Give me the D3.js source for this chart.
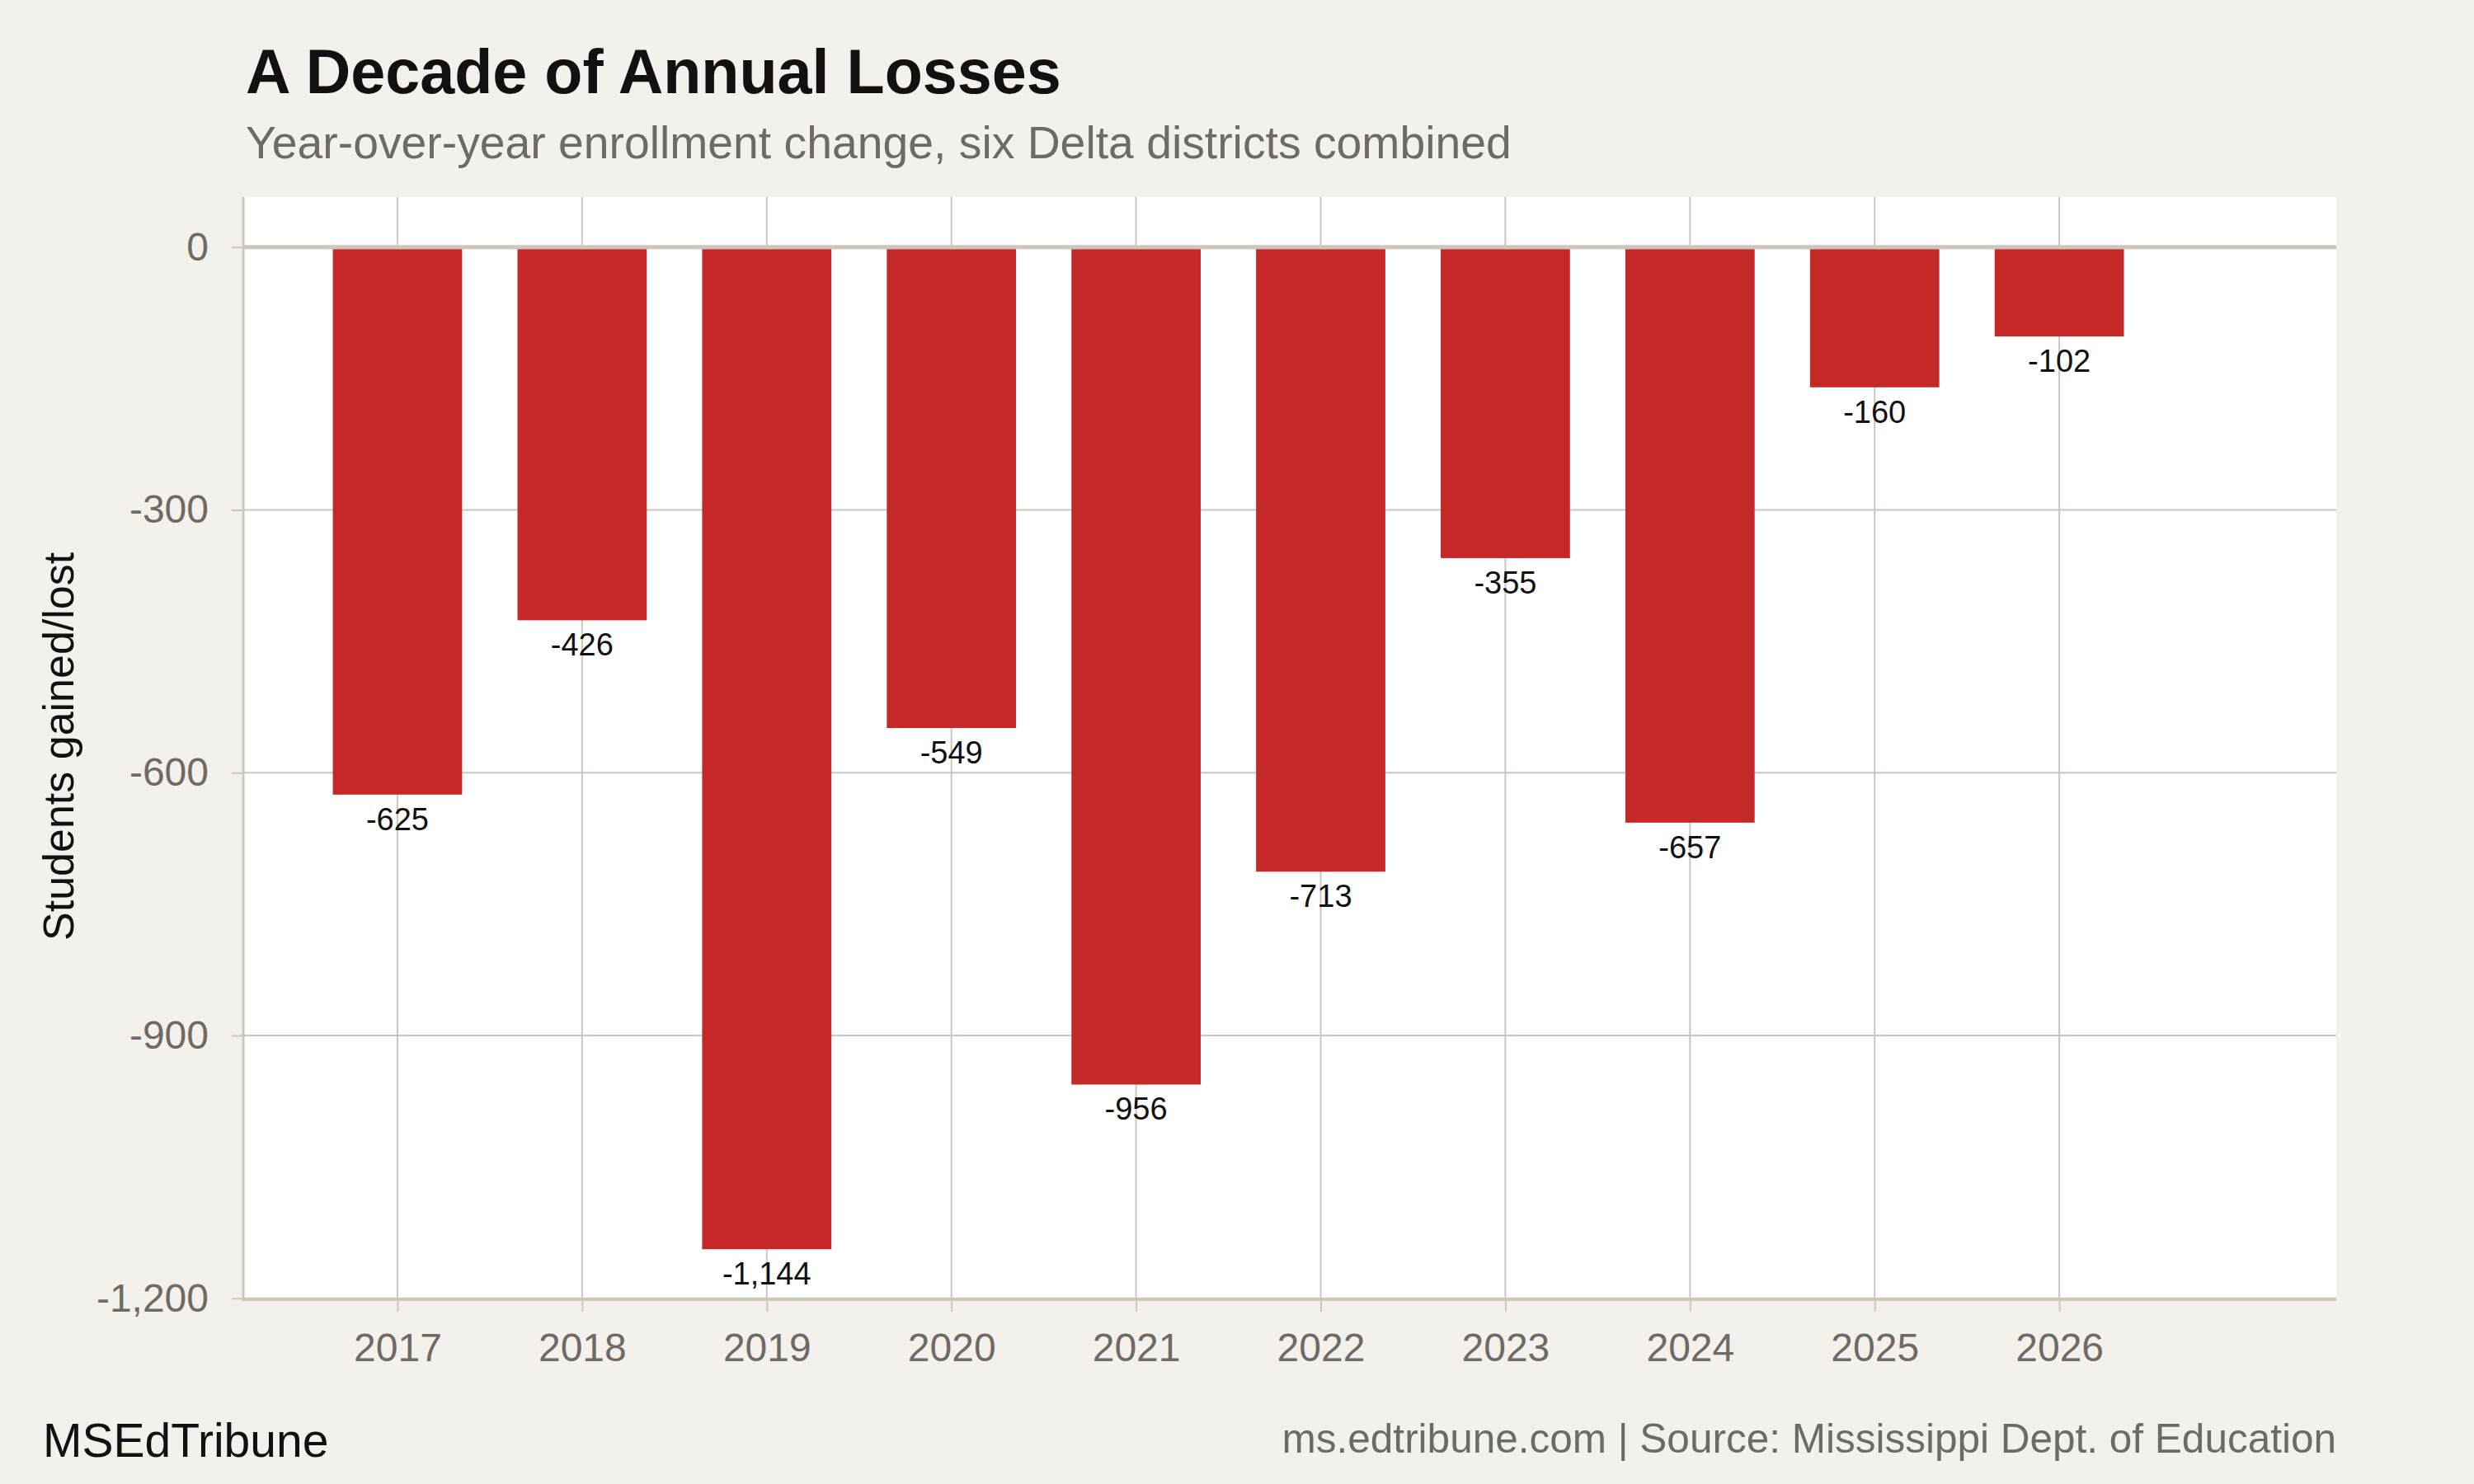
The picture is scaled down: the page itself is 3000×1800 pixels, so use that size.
<!DOCTYPE html>
<html>
<head>
<meta charset="utf-8">
<script src="https://cdn.jsdelivr.net/npm/d3@7"></script>
<style>
  body { margin: 0; background: #f4f1ec; }
  svg { display: block; font-family: "Liberation Sans", Arial, Helvetica, sans-serif; }
  .title { font-size: 75.5px; font-weight: bold; fill: #111; }
  .subtitle { font-size: 55.3px; fill: #6e6a65; }
  .axis text { font-size: 48px; fill: #6e6a65; font-family: "Liberation Sans", Arial, sans-serif; }
  .axis line { stroke: #cdc6bc; stroke-width: 2; }
  .axis path { display: none; }
  .grid { stroke: #cdc6bc; stroke-width: 2; }
  .bar-label { font-size: 38px; fill: #111; text-anchor: middle; }
  .y-title { font-size: 52px; fill: #111; text-anchor: middle; }
  .brand { font-size: 57px; fill: #111; }
  .source { font-size: 49.5px; fill: #6e6a65; text-anchor: end; }
</style>
</head>
<body>
<script>
// data
const years = [2017, 2018, 2019, 2020, 2021, 2022, 2023, 2024, 2025, 2026];
const changes = [-625, -426, -1144, -549, -956, -713, -355, -657, -160, -102];
const yTicks = [0, -300, -600, -900, -1200];

const TITLE = 'A Decade of Annual Losses';
const SUBTITLE = 'Year-over-year enrollment change, six Delta districts combined';
const Y_LABEL = 'Students gained/lost';
const BRAND = 'MSEdTribune';
const SOURCE = 'ms.edtribune.com | Source: Mississippi Dept. of Education';

const SCREEN = {
    width: 3000,
    height: 1800,
    left: 295,
    right: 167,
    top: 239,
    bottom: 224
};
SCREEN.innerWidth = SCREEN.width - SCREEN.left - SCREEN.right;
SCREEN.innerHeight = SCREEN.height - SCREEN.top - SCREEN.bottom;

// hyphen minus and thousands comma, like the original labels
const fmt = d3.formatLocale({ decimal: '.', thousands: ',', grouping: [3], currency: ['$', ''], minus: '-' }).format(',');

const svg = d3.select('body').append('svg')
    .attr('width', SCREEN.width)
    .attr('height', SCREEN.height);

svg.append('rect')
    .attr('width', SCREEN.width)
    .attr('height', SCREEN.height)
    .attr('fill', '#f4f1ec');

svg.append('text').attr('class', 'title').attr('x', 298).attr('y', 113).text(TITLE);
svg.append('text').attr('class', 'subtitle').attr('x', 298).attr('y', 192).text(SUBTITLE);

const canvas = svg.append('g')
    .attr('transform', `translate(${SCREEN.left},${SCREEN.top})`);

// continuous year axis, the plot has extra room on the right
const x = d3.scaleLinear()
    .domain([d3.min(years) - 0.835, d3.max(years) + 1.5])
    .range([0, SCREEN.innerWidth]);

// 5% expansion each side of [-1144, 0]
const yMin = d3.min(changes), yMax = 0;
const pad = (yMax - yMin) * 0.05;
const y = d3.scaleLinear()
    .domain([yMin - pad, yMax + pad])
    .range([SCREEN.innerHeight, 0]);

canvas.append('rect')
    .attr('width', SCREEN.innerWidth)
    .attr('height', SCREEN.innerHeight)
    .attr('fill', '#ffffff');

// grid
canvas.selectAll('.grid-y').data(yTicks.filter(d => d !== 0)).join('line')
    .attr('class', 'grid')
    .attr('x1', 0).attr('x2', SCREEN.innerWidth)
    .attr('y1', d => y(d)).attr('y2', d => y(d));

canvas.selectAll('.grid-x').data(years).join('line')
    .attr('class', 'grid')
    .attr('x1', d => x(d)).attr('x2', d => x(d))
    .attr('y1', 0).attr('y2', SCREEN.innerHeight);

// zero line
canvas.append('line')
    .attr('x1', 0).attr('x2', SCREEN.innerWidth)
    .attr('y1', y(0)).attr('y2', y(0))
    .attr('stroke', '#cdc6bc').attr('stroke-width', 5);

const step = x(years[1]) - x(years[0]);
const barW = step * 0.7;

canvas.selectAll('.bar').data(years).join('rect')
    .attr('class', 'bar')
    .attr('x', d => x(d) - barW / 2)
    .attr('y', (d, i) => y(Math.max(0, changes[i])) + 2.5)
    .attr('width', barW)
    .attr('height', (d, i) => Math.abs(y(changes[i]) - y(0)) - 2.5)
    .attr('fill', '#c62828');

canvas.selectAll('.bar-label').data(years).join('text')
    .attr('class', 'bar-label')
    .attr('x', d => x(d))
    .attr('y', (d, i) => y(changes[i]) + 43)
    .text((d, i) => fmt(changes[i]));

// axes
const xAxisGroup = canvas.append('g')
    .attr('class', 'axis')
    .attr('transform', `translate(0,${SCREEN.innerHeight})`)
    .call(d3.axisBottom(x).tickValues(years).tickFormat(d3.format('d')).tickSize(15).tickPadding(26));

const yAxisGroup = canvas.append('g')
    .attr('class', 'axis')
    .call(d3.axisLeft(y).tickValues(yTicks).tickFormat(fmt).tickSize(14).tickPadding(28));

// panel border lines (left and bottom)
canvas.append('line')
    .attr('x1', 0).attr('x2', 0)
    .attr('y1', 0).attr('y2', SCREEN.innerHeight + 2)
    .attr('stroke', '#cdc6bc').attr('stroke-width', 3);
canvas.append('line')
    .attr('x1', -1.5).attr('x2', SCREEN.innerWidth)
    .attr('y1', SCREEN.innerHeight).attr('y2', SCREEN.innerHeight)
    .attr('stroke', '#cdc6bc').attr('stroke-width', 4);

svg.append('text')
    .attr('class', 'y-title')
    .attr('transform', `translate(89,${SCREEN.top + y(-570)}) rotate(-90)`)
    .text(Y_LABEL);

svg.append('text').attr('class', 'brand').attr('x', 52).attr('y', 1767).text(BRAND);
svg.append('text').attr('class', 'source').attr('x', SCREEN.left + SCREEN.innerWidth).attr('y', 1762).text(SOURCE);
</script>
</body>
</html>
